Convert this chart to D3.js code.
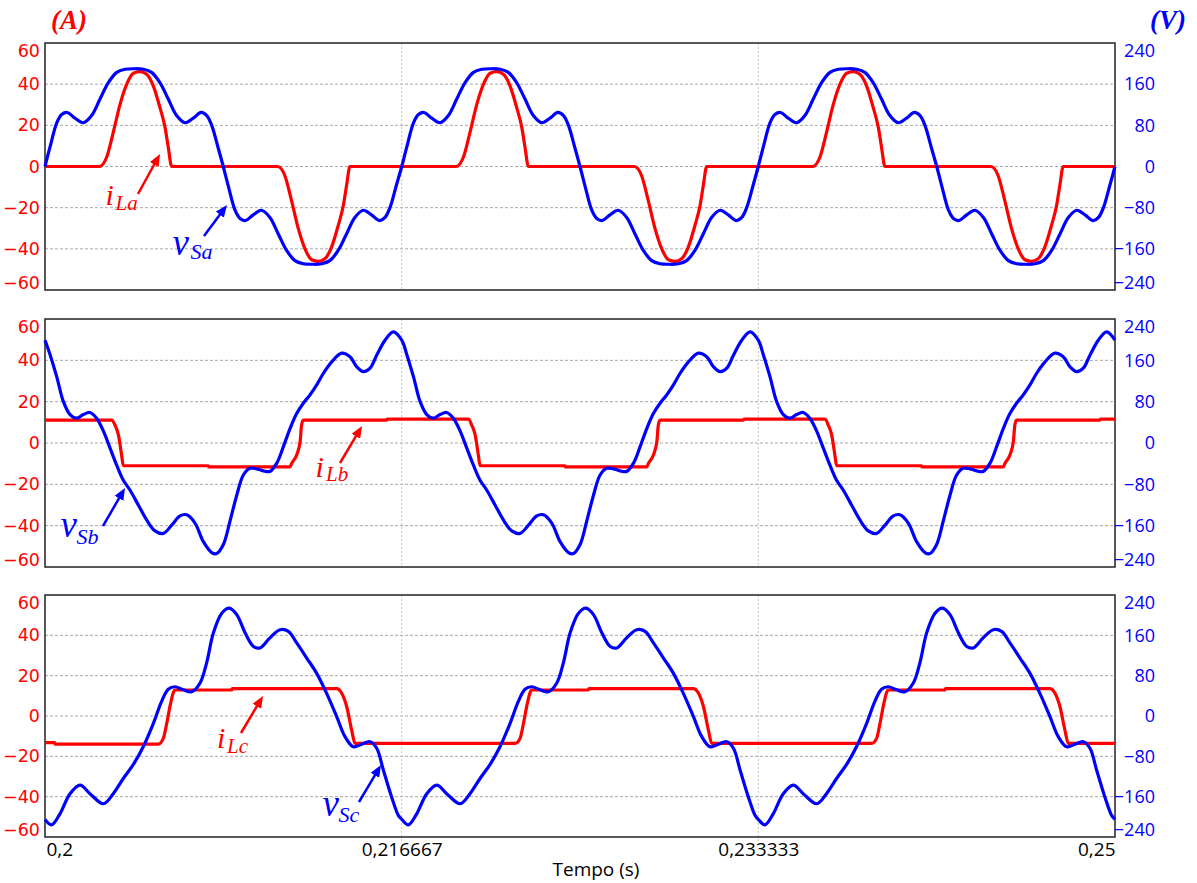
<!DOCTYPE html>
<html>
<head>
<meta charset="utf-8">
<script src="https://cdn.jsdelivr.net/npm/d3@7"></script>
<style>
  body { margin: 0; background: #fff; }
  svg { display: block; }
  .amp text { font-family: "DejaVu Sans", sans-serif; font-size: 17.5px; fill: #ff0000; }
  .volt text { font-family: "Open Sans", sans-serif; font-size: 18px; fill: #0000ff; }
  .x-axis text { font-family: "Open Sans", sans-serif; font-size: 19px; fill: #000; }
  .unit { font-family: "Liberation Serif", serif; font-style: italic; font-weight: bold; font-size: 27px; }
  .name { font-family: "Liberation Serif", serif; font-style: italic; }
</style>
</head>
<body>
<div id="svg-container"></div>
<script>
////////////////////////////////////////////////////////////////////
////////////////////////////  Data  ////////////////////////////////
const xTicks = [0.2, 0.216667, 0.233333, 0.25];
const xTickLabels = ["0,2", "0,216667", "0,233333", "0,25"];
const ampTicks = [-60, -40, -20, 0, 20, 40, 60];
const voltTicks = [-240, -160, -80, 0, 80, 160, 240];
const gridAmps = [-40, -20, 0, 20, 40];

// [tempo (s), tensao (V)]
const vSa = [
  [0.20000,0],[0.20023,37],[0.20055,85],[0.20078,101],[0.20104,105],[0.20140,94],[0.20179,85],[0.20218,99],[0.20257,131],[0.20296,163],[0.20335,183],[0.20374,189],[0.20417,190],[0.20460,189],[0.20498,183],[0.20537,163],[0.20576,131],[0.20615,99],[0.20654,85],[0.20693,94],[0.20729,105],[0.20756,99],[0.20779,80],[0.20810,35],
  [0.20833,0],[0.20856,-37],[0.20888,-85],[0.20911,-101],[0.20937,-105],[0.20973,-94],[0.21012,-85],[0.21051,-99],[0.21090,-131],[0.21129,-163],[0.21168,-183],[0.21207,-189],[0.21250,-190],[0.21293,-189],[0.21331,-183],[0.21370,-163],[0.21409,-131],[0.21448,-99],[0.21487,-85],[0.21526,-94],[0.21562,-105],[0.21589,-99],[0.21612,-80],[0.21643,-35],
  [0.21667,0],[0.21690,37],[0.21722,85],[0.21745,101],[0.21771,105],[0.21807,94],[0.21846,85],[0.21885,99],[0.21924,131],[0.21963,163],[0.22002,183],[0.22041,189],[0.22084,190],[0.22127,189],[0.22165,183],[0.22204,163],[0.22243,131],[0.22282,99],[0.22321,85],[0.22360,94],[0.22396,105],[0.22423,99],[0.22446,80],[0.22477,35],
  [0.22500,0],[0.22523,-37],[0.22555,-85],[0.22578,-101],[0.22604,-105],[0.22640,-94],[0.22679,-85],[0.22718,-99],[0.22757,-131],[0.22796,-163],[0.22835,-183],[0.22874,-189],[0.22917,-190],[0.22960,-189],[0.22998,-183],[0.23037,-163],[0.23076,-131],[0.23115,-99],[0.23154,-85],[0.23193,-94],[0.23229,-105],[0.23256,-99],[0.23279,-80],[0.23310,-35],
  [0.23333,0],[0.23356,37],[0.23388,85],[0.23411,101],[0.23437,105],[0.23473,94],[0.23512,85],[0.23551,99],[0.23590,131],[0.23629,163],[0.23668,183],[0.23707,189],[0.23750,190],[0.23793,189],[0.23831,183],[0.23870,163],[0.23909,131],[0.23948,99],[0.23987,85],[0.24026,94],[0.24062,105],[0.24089,99],[0.24112,80],[0.24143,35],
  [0.24167,0],[0.24190,-37],[0.24222,-85],[0.24245,-101],[0.24271,-105],[0.24307,-94],[0.24346,-85],[0.24385,-99],[0.24424,-131],[0.24463,-163],[0.24502,-183],[0.24541,-189],[0.24584,-190],[0.24627,-189],[0.24665,-183],[0.24704,-163],[0.24743,-131],[0.24782,-99],[0.24821,-85],[0.24860,-94],[0.24896,-105],[0.24923,-99],[0.24946,-80],[0.24977,-35],[0.25000,0]
];

// [tempo (s), corrente (A)]
const iLa = [
  [0.20000,0],[0.20254,0],[0.20288,4.5],[0.20319,16.6],[0.20351,30.3],[0.20382,40],[0.20413,45.3],[0.20444,46.1],[0.20475,44.8],[0.20506,39.2],[0.20537,28.7],[0.20561,19],[0.20576,9.4],[0.20592,0],
  [0.21087,0],[0.21121,-4.5],[0.21152,-16.6],[0.21184,-30.3],[0.21215,-40],[0.21246,-45.3],[0.21277,-46.1],[0.21308,-44.8],[0.21339,-39.2],[0.21370,-28.7],[0.21394,-19],[0.21409,-9.4],[0.21425,0],
  [0.21921,0],[0.21955,4.5],[0.21986,16.6],[0.22018,30.3],[0.22049,40],[0.22080,45.3],[0.22111,46.1],[0.22142,44.8],[0.22173,39.2],[0.22204,28.7],[0.22228,19],[0.22243,9.4],[0.22259,0],
  [0.22754,0],[0.22788,-4.5],[0.22819,-16.6],[0.22851,-30.3],[0.22882,-40],[0.22913,-45.3],[0.22944,-46.1],[0.22975,-44.8],[0.23006,-39.2],[0.23037,-28.7],[0.23061,-19],[0.23076,-9.4],[0.23092,0],
  [0.23587,0],[0.23621,4.5],[0.23652,16.6],[0.23684,30.3],[0.23715,40],[0.23746,45.3],[0.23777,46.1],[0.23808,44.8],[0.23839,39.2],[0.23870,28.7],[0.23894,19],[0.23909,9.4],[0.23925,0],
  [0.24420,0],[0.24454,-4.5],[0.24485,-16.6],[0.24517,-30.3],[0.24548,-40],[0.24579,-45.3],[0.24610,-46.1],[0.24641,-44.8],[0.24672,-39.2],[0.24703,-28.7],[0.24727,-19],[0.24742,-9.4],[0.24758,0],[0.25000,0]
];

const vSb = [
  [0.20000,199],[0.20023,172],[0.20055,128],[0.20086,80],[0.20117,55],[0.20148,48],[0.20179,55],[0.20210,59],[0.20241,48],[0.20273,23],[0.20304,-10],[0.20335,-43],[0.20366,-72],[0.20397,-91],[0.20436,-120],[0.20475,-149],[0.20514,-170],[0.20553,-175],[0.20592,-159],[0.20631,-141],[0.20662,-139],[0.20701,-155],[0.20740,-191],[0.20779,-212],[0.20802,-214],[0.20833,-197],[0.20864,-152],[0.20896,-101],[0.20927,-62],[0.20958,-49],[0.20989,-50],[0.21020,-54],[0.21051,-55],[0.21083,-39],[0.21114,-7],[0.21145,28],[0.21176,57],[0.21207,77],[0.21238,93],[0.21269,112],[0.21301,135],[0.21340,157],[0.21386,174],[0.21425,167],[0.21456,148],[0.21488,138],[0.21519,145],[0.21550,170],[0.21589,199],[0.21628,215],
  [0.21667,199],[0.21690,172],[0.21722,128],[0.21753,80],[0.21784,55],[0.21815,48],[0.21846,55],[0.21877,59],[0.21908,48],[0.21940,23],[0.21971,-10],[0.22002,-43],[0.22033,-72],[0.22064,-91],[0.22103,-120],[0.22142,-149],[0.22181,-170],[0.22220,-175],[0.22259,-159],[0.22298,-141],[0.22329,-139],[0.22368,-155],[0.22407,-191],[0.22446,-212],[0.22469,-214],[0.22500,-197],[0.22531,-152],[0.22563,-101],[0.22594,-62],[0.22625,-49],[0.22656,-50],[0.22687,-54],[0.22718,-55],[0.22750,-39],[0.22781,-7],[0.22812,28],[0.22843,57],[0.22874,77],[0.22905,93],[0.22936,112],[0.22968,135],[0.23007,157],[0.23053,174],[0.23092,167],[0.23123,148],[0.23155,138],[0.23186,145],[0.23217,170],[0.23256,199],[0.23295,215],
  [0.23333,199],[0.23356,172],[0.23388,128],[0.23419,80],[0.23450,55],[0.23481,48],[0.23512,55],[0.23543,59],[0.23574,48],[0.23606,23],[0.23637,-10],[0.23668,-43],[0.23699,-72],[0.23730,-91],[0.23769,-120],[0.23808,-149],[0.23847,-170],[0.23886,-175],[0.23925,-159],[0.23964,-141],[0.23995,-139],[0.24034,-155],[0.24073,-191],[0.24112,-212],[0.24135,-214],[0.24166,-197],[0.24197,-152],[0.24229,-101],[0.24260,-62],[0.24291,-49],[0.24322,-50],[0.24353,-54],[0.24384,-55],[0.24416,-39],[0.24447,-7],[0.24478,28],[0.24509,57],[0.24540,77],[0.24571,93],[0.24602,112],[0.24634,135],[0.24673,157],[0.24719,174],[0.24758,167],[0.24789,148],[0.24821,138],[0.24852,145],[0.24883,170],[0.24922,199],[0.24961,215],[0.25000,199]
];

const iLb = [
  [0.20000,11.1],[0.20312,11.1],[0.20327,8.7],[0.20343,3.9],[0.20358,-5.8],[0.20366,-11.0],[0.20763,-11.0],[0.20765,-11.6],[0.21145,-11.6],[0.21153,-9.8],[0.21176,-5.8],[0.21192,0.6],[0.21199,8.7],[0.21207,11.1],[0.21596,11.1],[0.21599,11.6],
  [0.21979,11.6],[0.21994,8.7],[0.22010,3.9],[0.22025,-5.8],[0.22033,-11.0],[0.22430,-11.0],[0.22432,-11.6],[0.22812,-11.6],[0.22820,-9.8],[0.22843,-5.8],[0.22859,0.6],[0.22866,8.7],[0.22874,11.1],[0.23263,11.1],[0.23266,11.6],
  [0.23645,11.6],[0.23660,8.7],[0.23676,3.9],[0.23691,-5.8],[0.23699,-11.0],[0.24096,-11.0],[0.24098,-11.6],[0.24478,-11.6],[0.24486,-9.8],[0.24509,-5.8],[0.24525,0.6],[0.24532,8.7],[0.24540,11.1],[0.24929,11.1],[0.24932,11.6],[0.25000,11.6]
];

const vSc = [
  [0.20000,-205],[0.20031,-216],[0.20070,-194],[0.20117,-154],[0.20164,-137],[0.20210,-154],[0.20273,-174],[0.20319,-154],[0.20366,-124],[0.20413,-96],[0.20459,-61],[0.20506,-15],[0.20545,29],[0.20576,53],[0.20607,58],[0.20646,52],[0.20685,48],[0.20724,65],[0.20755,105],[0.20787,165],[0.20826,204],[0.20861,214],[0.20896,201],[0.20935,165],[0.20974,138],[0.21005,135],[0.21051,155],[0.21098,171],[0.21137,168],[0.21176,145],[0.21223,115],[0.21269,85],[0.21316,45],[0.21363,-1],[0.21402,-41],[0.21441,-61],[0.21480,-56],[0.21519,-51],[0.21550,-64],[0.21581,-107],[0.21620,-161],[0.21651,-197],
  [0.21667,-205],[0.21698,-216],[0.21737,-194],[0.21784,-154],[0.21831,-137],[0.21877,-154],[0.21940,-174],[0.21986,-154],[0.22033,-124],[0.22080,-96],[0.22126,-61],[0.22173,-15],[0.22212,29],[0.22243,53],[0.22274,58],[0.22313,52],[0.22352,48],[0.22391,65],[0.22422,105],[0.22454,165],[0.22493,204],[0.22528,214],[0.22563,201],[0.22602,165],[0.22641,138],[0.22672,135],[0.22718,155],[0.22765,171],[0.22804,168],[0.22843,145],[0.22890,115],[0.22936,85],[0.22983,45],[0.23030,-1],[0.23069,-41],[0.23108,-61],[0.23147,-56],[0.23186,-51],[0.23217,-64],[0.23248,-107],[0.23287,-161],[0.23318,-197],
  [0.23333,-205],[0.23364,-216],[0.23403,-194],[0.23450,-154],[0.23497,-137],[0.23543,-154],[0.23606,-174],[0.23652,-154],[0.23699,-124],[0.23746,-96],[0.23792,-61],[0.23839,-15],[0.23878,29],[0.23909,53],[0.23940,58],[0.23979,52],[0.24018,48],[0.24057,65],[0.24088,105],[0.24120,165],[0.24159,204],[0.24194,214],[0.24229,201],[0.24268,165],[0.24307,138],[0.24338,135],[0.24384,155],[0.24431,171],[0.24470,168],[0.24509,145],[0.24556,115],[0.24602,85],[0.24649,45],[0.24696,-1],[0.24735,-41],[0.24774,-61],[0.24813,-56],[0.24852,-51],[0.24883,-64],[0.24914,-107],[0.24953,-161],[0.24984,-197],[0.25000,-205]
];

const iLc = [
  [0.20000,-13.2],[0.20045,-13.2],[0.20047,-13.9],[0.20530,-13.9],[0.20553,-11.1],[0.20569,-3.6],[0.20587,6.3],[0.20607,12.9],[0.20872,12.9],[0.20875,13.6],[0.21363,13.6],[0.21386,11.4],[0.21410,4.6],[0.21433,-7.0],[0.21449,-13.6],
  [0.22197,-13.6],[0.22220,-11.1],[0.22236,-3.6],[0.22254,6.3],[0.22274,12.9],[0.22539,12.9],[0.22542,13.6],[0.23030,13.6],[0.23053,11.4],[0.23077,4.6],[0.23100,-7.0],[0.23116,-13.6],
  [0.23863,-13.6],[0.23886,-11.1],[0.23902,-3.6],[0.23920,6.3],[0.23940,12.9],[0.24205,12.9],[0.24208,13.6],[0.24696,13.6],[0.24719,11.4],[0.24743,4.6],[0.24766,-7.0],[0.24782,-13.6],[0.25000,-13.6]
];

////////////////////////////////////////////////////////////////////
////////////////////////////  Init  ////////////////////////////////
const width = 1197;
const height = 883;
const red = "#ff0000";
const blue = "#0000ff";

const svg = d3.select("#svg-container").append("svg")
  .attr("width", width).attr("height", height);

const defs = svg.append("defs");
[["arrow-red", red], ["arrow-blue", blue]].forEach(([id, c]) => {
  defs.append("marker")
    .attr("id", id)
    .attr("viewBox", "0 0 12 10")
    .attr("refX", 4).attr("refY", 5)
    .attr("markerWidth", 12).attr("markerHeight", 10)
    .attr("markerUnits", "userSpaceOnUse")
    .attr("orient", "auto")
    .append("path").attr("d", "M0,0 L12,5 L0,10 Z").attr("fill", c);
});

const xScale = d3.scaleLinear().domain([0.2, 0.25]).range([45, 1115]);

// panels: layout + labels
const panels = [
  { top: 43, bottom: 290, v: vSa, i: iLa,
    iName: ["i", "La"], iPos: [105.5, 205, 115.5, 209.5], iArrow: [138, 194, 160, 154],
    vName: ["v", "Sa"], vPos: [172.5, 255, 190.5, 258.5], vArrow: [204, 236, 227, 205] },
  { top: 319, bottom: 567, v: vSb, i: iLb,
    iName: ["i", "Lb"], iPos: [315.5, 477, 326, 481], iArrow: [340, 463, 362, 426],
    vName: ["v", "Sb"], vPos: [60.5, 537, 76.5, 544], vArrow: [103, 526, 125, 488] },
  { top: 595, bottom: 837, v: vSc, i: iLc,
    iName: ["i", "Lc"], iPos: [217, 748, 227, 752.5], iArrow: [241, 733, 263, 696],
    vName: ["v", "Sc"], vPos: [322.5, 816, 338.5, 821.5], vArrow: [359, 802, 381, 765] }
];

panels.forEach((p, k) => {
  const yA = d3.scaleLinear().domain([-60, 60]).range([p.bottom, p.top]);
  const yV = d3.scaleLinear().domain([-240, 240]).range([p.bottom, p.top]);
  const g = svg.append("g");

  // grid
  g.selectAll(".hgrid").data(gridAmps).enter().append("line")
    .attr("x1", xScale.range()[0]).attr("x2", xScale.range()[1])
    .attr("y1", (d) => yA(d)).attr("y2", (d) => yA(d))
    .attr("stroke", "#a8a8a8").attr("stroke-width", 1)
    .attr("stroke-dasharray", "3,2");

  g.selectAll(".vgrid").data(xTicks.slice(1, -1)).enter().append("line")
    .attr("x1", (d) => xScale(d)).attr("x2", (d) => xScale(d))
    .attr("y1", p.top).attr("y2", k === 2 ? p.bottom + 6 : p.bottom)
    .attr("stroke", "#c4c4c4").attr("stroke-width", 1)
    .attr("stroke-dasharray", "2,2");

  // axes
  const ampAxis = g.append("g").attr("class", "amp")
    .attr("transform", `translate(${xScale.range()[0]},0)`)
    .call(d3.axisLeft(yA).tickValues(ampTicks).tickSize(0).tickPadding(5));
  const voltAxis = g.append("g").attr("class", "volt")
    .attr("transform", `translate(${xScale.range()[1]},0)`)
    .call(d3.axisRight(yV).tickValues(voltTicks).tickSize(0));
  [ampAxis, voltAxis].forEach((ax) => {
    ax.select(".domain").remove();
    ax.selectAll("text").attr("fill", null);
    ax.selectAll(".tick")
      .filter((d, i, n) => i === 0)
      .select("text").attr("transform", "translate(0,-7)");
    ax.selectAll(".tick")
      .filter((d, i, n) => i === n.length - 1)
      .select("text").attr("transform", "translate(0,8)");
  });
  voltAxis.selectAll("text").attr("text-anchor", "end").attr("x", 40);

  // frame
  g.append("rect")
    .attr("x", xScale.range()[0]).attr("y", p.top)
    .attr("width", xScale.range()[1] - xScale.range()[0])
    .attr("height", p.bottom - p.top)
    .attr("fill", "none").attr("stroke", "#222").attr("stroke-width", 1.5);

  // series
  const iLine = d3.line().x((d) => xScale(d[0])).y((d) => yA(d[1])).curve(d3.curveMonotoneX);
  const vLine = d3.line().x((d) => xScale(d[0])).y((d) => yV(d[1])).curve(d3.curveCatmullRom.alpha(0.5));

  g.append("path").datum(p.i).attr("d", iLine)
    .attr("fill", "none").attr("stroke", red).attr("stroke-width", 3.2)
    .attr("stroke-linejoin", "round");
  g.append("path").datum(p.v).attr("d", vLine)
    .attr("fill", "none").attr("stroke", blue).attr("stroke-width", 3.2)
    .attr("stroke-linejoin", "round");

  // names + arrows
  const names = [
    [p.iName, p.iPos, p.iArrow, red, "arrow-red", 30, 21],
    [p.vName, p.vPos, p.vArrow, blue, "arrow-blue", 37, 22]
  ];
  names.forEach(([nm, pos, ar, c, mk, fs, fsub]) => {
    g.append("text").attr("class", "name")
      .attr("x", pos[0]).attr("y", pos[1])
      .attr("font-size", fs).attr("fill", c).text(nm[0]);
    g.append("text").attr("class", "name")
      .attr("x", pos[2]).attr("y", pos[3])
      .attr("font-size", fsub).attr("fill", c).text(nm[1]);
    const dx = ar[2] - ar[0], dy = ar[3] - ar[1];
    const len = Math.hypot(dx, dy);
    g.append("line")
      .attr("x1", ar[0]).attr("y1", ar[1])
      .attr("x2", ar[2] - dx / len * 8).attr("y2", ar[3] - dy / len * 8)
      .attr("stroke", c).attr("stroke-width", 2.5)
      .attr("marker-end", `url(#${mk})`);
  });
});

// x axis (bottom panel)
const xAxisG = svg.append("g").attr("class", "x-axis")
  .attr("transform", `translate(0,${panels[2].bottom})`)
  .call(d3.axisBottom(xScale).tickValues(xTicks)
    .tickFormat((d, i) => xTickLabels[i]).tickSize(0).tickPadding(5));
xAxisG.select(".domain").remove();
xAxisG.selectAll("text").attr("fill", null);
xAxisG.selectAll(".tick").filter((d, i) => i === 0).select("text").attr("text-anchor", "start").attr("dx", 1);
xAxisG.selectAll(".tick").filter((d, i) => i === xTicks.length - 1).select("text").attr("text-anchor", "end");

// units
svg.append("text")
  .attr("x", 596).attr("y", 876)
  .attr("text-anchor", "middle")
  .attr("font-family", "Open Sans, sans-serif").attr("font-size", 19)
  .text("Tempo (s)");

svg.append("text").attr("class", "unit")
  .attr("x", 51).attr("y", 29).attr("fill", red).text("(A)");
svg.append("text").attr("class", "unit")
  .attr("x", 1150).attr("y", 29).attr("fill", blue).text("(V)");
</script>
</body>
</html>
